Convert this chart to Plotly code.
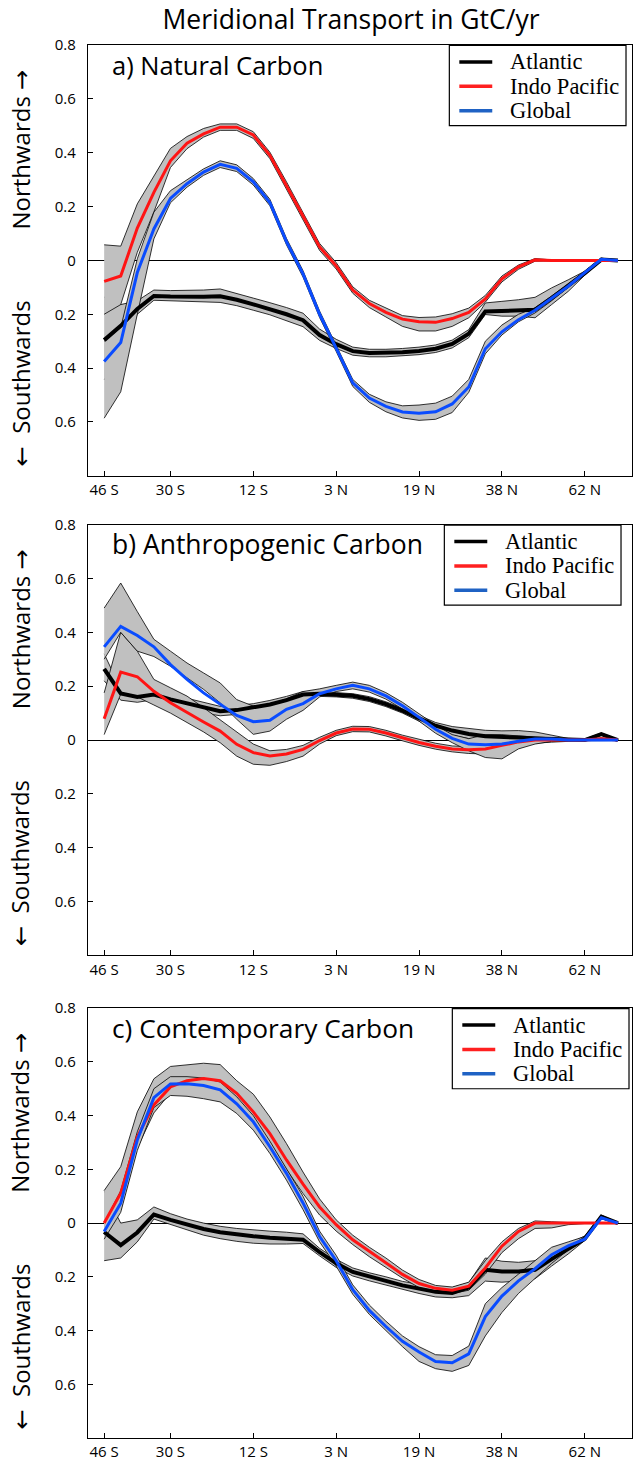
import plotly.graph_objects as go

# ---------------- data ----------------
lat_index = list(range(32))
tick_index = [0, 4, 9, 14, 19, 24, 29]
tick_labels = ['46 S', '30 S', '12 S', '3 N', '19 N', '38 N', '62 N']
y_tickvals = [0.8, 0.6, 0.4, 0.2, 0, -0.2, -0.4, -0.6]
y_ticktext = ['0.8', '0.6', '0.4', '0.2', '0', '0.2', '0.4', '0.6']
series_names = ['Atlantic', 'Indo Pacific', 'Global']
panel_titles = ['a) Natural Carbon', 'b) Anthropogenic Carbon', 'c) Contemporary Carbon']

# a) Natural carbon
atl_a = [-0.296, -0.243, -0.18, -0.132, -0.134, -0.135, -0.135, -0.133, -0.146, -0.163, -0.18, -0.2, -0.222, -0.277, -0.311, -0.337, -0.344, -0.344, -0.341, -0.336, -0.328, -0.31, -0.272, -0.19, -0.187, -0.185, -0.183, -0.14, -0.095, -0.047, 0.003, 0.0]
atl_a_lo = [-0.444, -0.33, -0.2, -0.148, -0.15, -0.152, -0.154, -0.156, -0.168, -0.185, -0.202, -0.224, -0.246, -0.297, -0.327, -0.352, -0.358, -0.358, -0.355, -0.35, -0.342, -0.325, -0.287, -0.201, -0.207, -0.207, -0.213, -0.164, -0.115, -0.055, -0.001, -0.002]
atl_a_hi = [-0.136, -0.164, -0.15, -0.11, -0.112, -0.112, -0.11, -0.106, -0.122, -0.14, -0.157, -0.175, -0.196, -0.255, -0.293, -0.322, -0.33, -0.33, -0.327, -0.322, -0.314, -0.296, -0.257, -0.158, -0.152, -0.146, -0.137, -0.102, -0.072, -0.04, 0.008, 0.002]
ind_a = [-0.078, -0.058, 0.12, 0.253, 0.37, 0.435, 0.47, 0.495, 0.495, 0.466, 0.39, 0.28, 0.165, 0.05, -0.02, -0.11, -0.16, -0.193, -0.218, -0.228, -0.23, -0.216, -0.193, -0.143, -0.068, -0.024, 0.002, 0.0, 0.0, 0.0, 0.0, 0.0]
ind_a_lo = [-0.2, -0.164, 0.03, 0.18, 0.345, 0.415, 0.458, 0.483, 0.483, 0.453, 0.378, 0.267, 0.152, 0.037, -0.032, -0.122, -0.175, -0.21, -0.245, -0.262, -0.262, -0.245, -0.213, -0.155, -0.08, -0.033, -0.003, -0.002, -0.002, -0.002, -0.002, -0.001]
ind_a_hi = [0.058, 0.053, 0.21, 0.315, 0.416, 0.46, 0.49, 0.507, 0.507, 0.478, 0.402, 0.292, 0.178, 0.063, -0.008, -0.098, -0.148, -0.178, -0.205, -0.212, -0.21, -0.198, -0.177, -0.13, -0.058, -0.017, 0.007, 0.002, 0.002, 0.002, 0.002, 0.001]
glo_a = [-0.375, -0.305, -0.045, 0.117, 0.23, 0.285, 0.328, 0.357, 0.342, 0.292, 0.215, 0.07, -0.05, -0.2, -0.326, -0.455, -0.511, -0.542, -0.563, -0.568, -0.562, -0.533, -0.47, -0.328, -0.265, -0.22, -0.185, -0.14, -0.096, -0.045, 0.004, 0.0]
glo_a_lo = [-0.586, -0.488, -0.2, 0.08, 0.214, 0.272, 0.316, 0.345, 0.33, 0.28, 0.203, 0.058, -0.062, -0.212, -0.338, -0.468, -0.527, -0.562, -0.585, -0.594, -0.59, -0.565, -0.49, -0.347, -0.277, -0.228, -0.195, -0.15, -0.103, -0.05, 0.0, -0.001]
glo_a_hi = [-0.3, -0.25, 0.006, 0.179, 0.259, 0.3, 0.34, 0.37, 0.355, 0.304, 0.227, 0.082, -0.038, -0.188, -0.314, -0.442, -0.497, -0.525, -0.54, -0.537, -0.53, -0.504, -0.442, -0.3, -0.24, -0.2, -0.176, -0.132, -0.088, -0.04, 0.008, 0.001]

# b) Anthropogenic carbon
atl_b = [0.264, 0.173, 0.16, 0.169, 0.151, 0.136, 0.12, 0.107, 0.111, 0.12, 0.132, 0.148, 0.169, 0.172, 0.168, 0.164, 0.152, 0.133, 0.109, 0.08, 0.053, 0.035, 0.022, 0.014, 0.01, 0.009, 0.006, 0.004, 0.0, 0.0, 0.022, 0.0]
atl_b_lo = [0.22, 0.148, 0.14, 0.15, 0.13, 0.115, 0.1, 0.09, 0.095, 0.105, 0.118, 0.135, 0.155, 0.162, 0.16, 0.155, 0.143, 0.124, 0.1, 0.07, 0.04, 0.018, 0.005, -0.005, -0.008, -0.005, -0.003, -0.002, -0.002, -0.002, 0.018, -0.002]
atl_b_hi = [0.32, 0.19, 0.18, 0.19, 0.17, 0.155, 0.14, 0.125, 0.128, 0.135, 0.147, 0.162, 0.18, 0.18, 0.176, 0.172, 0.161, 0.142, 0.118, 0.09, 0.065, 0.05, 0.042, 0.036, 0.034, 0.035, 0.03, 0.018, 0.006, 0.004, 0.026, 0.002]
ind_b = [0.079, 0.252, 0.235, 0.181, 0.138, 0.101, 0.067, 0.033, -0.016, -0.047, -0.059, -0.052, -0.035, -0.002, 0.026, 0.041, 0.04, 0.026, 0.008, -0.009, -0.023, -0.033, -0.036, -0.033, -0.02, -0.007, 0.0, 0.0, 0.0, 0.0, 0.005, 0.0]
ind_b_lo = [0.02, 0.17, 0.16, 0.13, 0.1, 0.065, 0.03, -0.01, -0.06, -0.09, -0.094, -0.08, -0.06, -0.015, 0.016, 0.031, 0.03, 0.015, -0.003, -0.02, -0.034, -0.044, -0.05, -0.052, -0.04, -0.02, -0.012, -0.008, -0.004, -0.002, 0.0, -0.002]
ind_b_hi = [0.175, 0.4, 0.33, 0.225, 0.194, 0.163, 0.12, 0.075, 0.03, -0.015, -0.04, -0.035, -0.02, 0.01, 0.036, 0.051, 0.05, 0.036, 0.018, 0.002, -0.012, -0.022, -0.025, -0.02, -0.005, 0.005, 0.008, 0.004, 0.002, 0.002, 0.008, 0.002]
glo_b = [0.346, 0.422, 0.388, 0.346, 0.28, 0.225, 0.175, 0.132, 0.091, 0.068, 0.073, 0.114, 0.135, 0.172, 0.19, 0.203, 0.19, 0.164, 0.127, 0.084, 0.04, 0.006, -0.015, -0.018, -0.015, -0.005, 0.004, 0.004, 0.0, 0.0, 0.0, 0.0]
glo_b_lo = [0.3, 0.4, 0.33, 0.31, 0.274, 0.231, 0.188, 0.138, 0.077, 0.021, 0.033, 0.077, 0.11, 0.16, 0.18, 0.19, 0.178, 0.152, 0.115, 0.07, 0.025, -0.01, -0.04, -0.065, -0.07, -0.033, -0.015, -0.005, -0.003, -0.002, -0.002, -0.002]
glo_b_hi = [0.49, 0.583, 0.477, 0.374, 0.33, 0.286, 0.249, 0.212, 0.15, 0.126, 0.132, 0.153, 0.18, 0.19, 0.203, 0.215, 0.203, 0.176, 0.14, 0.098, 0.055, 0.02, 0.005, 0.02, 0.02, 0.015, 0.012, 0.008, 0.003, 0.002, 0.002, 0.002]

# c) Contemporary carbon
atl_c = [-0.033, -0.082, -0.035, 0.032, 0.012, -0.006, -0.022, -0.034, -0.043, -0.049, -0.055, -0.059, -0.062, -0.108, -0.15, -0.182, -0.2, -0.215, -0.232, -0.244, -0.256, -0.26, -0.24, -0.174, -0.18, -0.18, -0.174, -0.134, -0.096, -0.058, 0.024, 0.0]
atl_c_lo = [-0.14, -0.13, -0.07, 0.015, -0.005, -0.025, -0.045, -0.058, -0.068, -0.075, -0.078, -0.078, -0.076, -0.122, -0.165, -0.197, -0.215, -0.23, -0.247, -0.262, -0.275, -0.278, -0.27, -0.216, -0.22, -0.216, -0.207, -0.16, -0.115, -0.065, 0.018, -0.002]
atl_c_hi = [0.12, 0.0, 0.012, 0.06, 0.035, 0.015, 0.0, -0.012, -0.02, -0.026, -0.03, -0.034, -0.04, -0.094, -0.135, -0.167, -0.185, -0.2, -0.217, -0.228, -0.238, -0.24, -0.222, -0.13, -0.142, -0.146, -0.14, -0.108, -0.077, -0.048, 0.03, 0.002]
ind_c = [0.0, 0.111, 0.321, 0.44, 0.507, 0.53, 0.538, 0.53, 0.483, 0.414, 0.333, 0.235, 0.145, 0.06, -0.006, -0.062, -0.105, -0.148, -0.191, -0.225, -0.243, -0.25, -0.235, -0.167, -0.086, -0.031, 0.0, 0.0, 0.0, 0.0, 0.0, 0.0]
ind_c_lo = [-0.03, 0.05, 0.28, 0.41, 0.485, 0.5, 0.505, 0.495, 0.45, 0.38, 0.3, 0.2, 0.11, 0.03, -0.03, -0.08, -0.125, -0.165, -0.205, -0.24, -0.255, -0.262, -0.25, -0.19, -0.11, -0.058, -0.02, -0.018, -0.006, -0.002, -0.002, -0.002]
ind_c_hi = [0.121, 0.21, 0.414, 0.537, 0.583, 0.59, 0.595, 0.59, 0.53, 0.48, 0.395, 0.296, 0.19, 0.09, 0.012, -0.045, -0.09, -0.13, -0.175, -0.21, -0.232, -0.238, -0.22, -0.14, -0.07, -0.02, 0.008, 0.005, 0.002, 0.002, 0.002, 0.002]
glo_c = [-0.031, 0.074, 0.309, 0.467, 0.518, 0.519, 0.512, 0.496, 0.444, 0.377, 0.284, 0.185, 0.075, -0.05, -0.14, -0.248, -0.325, -0.385, -0.44, -0.48, -0.515, -0.52, -0.487, -0.348, -0.272, -0.215, -0.17, -0.118, -0.085, -0.06, 0.02, 0.0]
glo_c_lo = [-0.06, 0.04, 0.27, 0.43, 0.475, 0.472, 0.463, 0.451, 0.408, 0.346, 0.259, 0.16, 0.05, -0.07, -0.16, -0.265, -0.34, -0.4, -0.46, -0.515, -0.542, -0.552, -0.53, -0.42, -0.333, -0.262, -0.205, -0.15, -0.1, -0.065, 0.016, -0.002]
glo_c_hi = [0.0, 0.12, 0.34, 0.5, 0.545, 0.545, 0.54, 0.525, 0.47, 0.4, 0.305, 0.2, 0.1, -0.03, -0.12, -0.23, -0.305, -0.365, -0.42, -0.46, -0.49, -0.493, -0.458, -0.3, -0.24, -0.19, -0.14, -0.09, -0.07, -0.05, 0.026, 0.002]

panels = [
    [(atl_a, atl_a_lo, atl_a_hi), (ind_a, ind_a_lo, ind_a_hi), (glo_a, glo_a_lo, glo_a_hi)],
    [(atl_b, atl_b_lo, atl_b_hi), (ind_b, ind_b_lo, ind_b_hi), (glo_b, glo_b_lo, glo_b_hi)],
    [(atl_c, atl_c_lo, atl_c_hi), (ind_c, ind_c_lo, ind_c_hi), (glo_c, glo_c_lo, glo_c_hi)],
]

# ---------------- style ----------------
line_colors = ['#000000', '#ff1414', '#0a4cff']
legend_colors = ['#000000', '#ff2020', '#1f62c4']
line_widths = [4, 3, 3]
band_fill = '#c0c0c0'
sans = 'Open Sans, DejaVu Sans, sans-serif'
serif = 'Liberation Serif, Times New Roman, serif'

W, H = 636, 1464
ML, MR, MT, MB = 88, 3, 45, 19
PW = W - ML - MR
plot_h = H - MT - MB
panel_px = [(45, 478), (527, 960), (1013, 1445)]
domains = [[1 - (b - MT) / plot_h, 1 - (t - MT) / plot_h] for t, b in panel_px]
legend_left_px = [450, 445, 453]


def dx(px):
    return (px - ML) / PW


fig = go.Figure()

for p, series in enumerate(panels):
    xa = 'x' if p == 0 else f'x{p+1}'
    ya = 'y' if p == 0 else f'y{p+1}'
    for s, (mid, lo, hi) in enumerate(series):
        fig.add_trace(go.Scatter(
            x=lat_index + lat_index[::-1], y=hi + lo[::-1],
            fill='toself', fillcolor=band_fill, mode='lines',
            line=dict(color='black', width=0.8), hoverinfo='skip',
            showlegend=False, xaxis=xa, yaxis=ya))
    for s, (mid, lo, hi) in enumerate(series):
        fig.add_trace(go.Scatter(
            x=lat_index, y=mid, mode='lines', name=series_names[s],
            line=dict(color=line_colors[s], width=line_widths[s]),
            showlegend=False, xaxis=xa, yaxis=ya))

axis_common = dict(showline=True, linecolor='black', linewidth=1.3, mirror=True,
                   ticks='inside', ticklen=5, tickwidth=1, tickcolor='black',
                   showgrid=False, tickfont=dict(family=sans, size=15, color='black'))

layout = dict(
    width=W, height=H, paper_bgcolor='white', plot_bgcolor='white',
    margin=dict(l=ML, r=MR, t=MT, b=MB), showlegend=False,
    title=dict(text='Meridional Transport in GtC/yr', x=351 / W, xanchor='center',
               y=1 - 20 / H, yanchor='middle', font=dict(family=sans, size=26.5, color='black')),
)
for p in range(3):
    sfx = '' if p == 0 else str(p + 1)
    layout[f'xaxis{sfx}'] = dict(axis_common, range=[-0.975, 31.85], tickvals=tick_index,
                                 ticktext=tick_labels, anchor=f'y{sfx}', zeroline=False)
    layout[f'yaxis{sfx}'] = dict(axis_common, range=[-0.8, 0.8], tickvals=y_tickvals,
                                 ticktext=y_ticktext, domain=domains[p], anchor=f'x{sfx}',
                                 zeroline=True, zerolinecolor='black', zerolinewidth=1,
                                 ticklabelstandoff=8)
fig.update_layout(**layout)

annotations = []
shapes = []
title_sizes = [25.5, 26.5, 26.3]
for p in range(3):
    sfx = '' if p == 0 else str(p + 1)
    xd, yd = f'x{sfx} domain', f'y{sfx} domain'
    ph = panel_px[p][1] - panel_px[p][0]

    def dy(off):
        return 1 - off / ph

    annotations.append(dict(text=panel_titles[p], xref=xd, yref=yd,
                            x=0.04, y=dy(20), xanchor='left', yanchor='middle', showarrow=False,
                            font=dict(family=sans, size=title_sizes[p], color='black')))
    annotations.append(dict(text='Northwards →', xref='paper', yref=yd,
                            x=dx(20), y=dy(105), textangle=-90,
                            xanchor='center', yanchor='middle', showarrow=False,
                            font=dict(family=sans, size=24, color='black')))
    annotations.append(dict(text='←  Southwards', xref='paper', yref=yd,
                            x=dx(20), y=dy(340), textangle=-90,
                            xanchor='center', yanchor='middle', showarrow=False,
                            font=dict(family=sans, size=24, color='black')))
    L = legend_left_px[p]
    shapes.append(dict(type='rect', xref=xd, yref=yd, x0=dx(L), x1=dx(L + 177),
                       y0=dy(0.5), y1=dy(81), line=dict(color='black', width=1.2),
                       fillcolor='white', layer='above'))
    for s, name in enumerate(series_names):
        off = 17 + 24.5 * s
        shapes.append(dict(type='line', xref=xd, yref=yd, x0=dx(L + 10), x1=dx(L + 43),
                           y0=dy(off), y1=dy(off), layer='above',
                           line=dict(color=legend_colors[s], width=3.5)))
        annotations.append(dict(text=name, xref=xd, yref=yd, x=dx(L + 59), y=dy(off),
                                xanchor='left', yanchor='middle', showarrow=False,
                                font=dict(family=serif, size=22.5, color='black')))
fig.update_layout(annotations=annotations, shapes=shapes)

fig.write_html('out.html', config={'displayModeBar': False},
               post_script="document.body.style.margin='0px';document.body.style.overflow='hidden';")
